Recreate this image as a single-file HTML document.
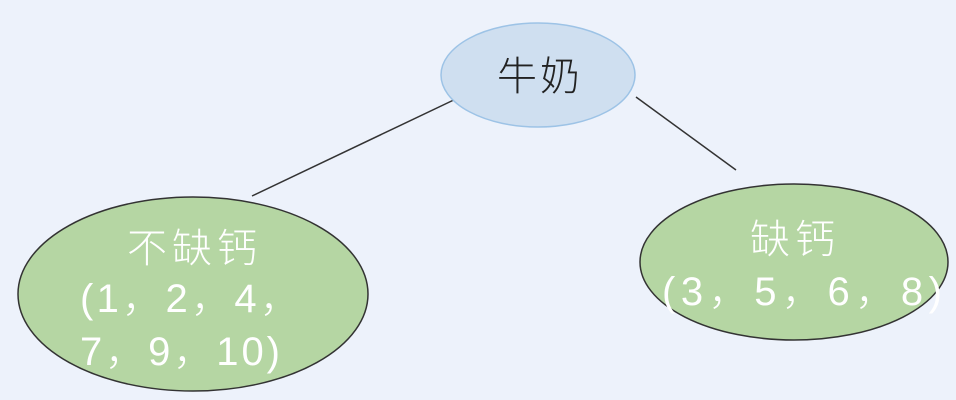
<html><body style="margin:0;background:#edf2fb">
<svg width="956" height="400" xmlns="http://www.w3.org/2000/svg" style="display:block">
<rect width="956" height="400" fill="#edf2fb"/>
<line x1="252" y1="196" x2="460" y2="97" stroke="#333" stroke-width="1.5"/>
<line x1="636" y1="97" x2="736" y2="170" stroke="#333" stroke-width="1.5"/>
<ellipse cx="538" cy="75" rx="97" ry="52" fill="#cfdff0" stroke="#9dc3e6" stroke-width="1.5"/>
<ellipse cx="193" cy="294" rx="175" ry="97" fill="#b5d6a3" stroke="#333" stroke-width="1.5"/>
<ellipse cx="794" cy="262" rx="154" ry="78" fill="#b5d6a3" stroke="#333" stroke-width="1.5"/>
<g font-family="Liberation Sans, Noto Sans CJK SC, sans-serif" font-size="40" font-weight="300" lengthAdjust="spacing">
<text x="497" y="90" fill="#222" textLength="83">牛奶</text>
<text x="127" y="262" fill="#fff" textLength="130">不缺钙</text>
<text x="80" y="312" fill="#fff" textLength="220">(1，2，4，</text>
<text x="80" y="365" fill="#fff" textLength="200">7，9，10)</text>
<text x="750" y="253" fill="#fff" textLength="85">缺钙</text>
<text x="662" y="305" fill="#fff" textLength="280">(3，5，6，8)</text>
</g>
</svg>
</body></html>
